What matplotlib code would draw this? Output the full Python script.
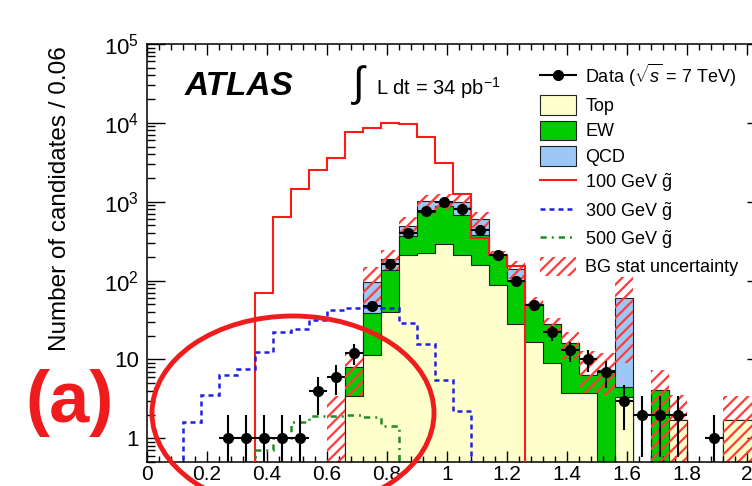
import numpy as np
import matplotlib
matplotlib.use('Agg')
import matplotlib.pyplot as plt
from matplotlib.patches import Ellipse, Patch
from matplotlib.lines import Line2D
from matplotlib.ticker import FixedLocator, FixedFormatter, LogLocator, MultipleLocator, NullFormatter

plt.rcParams['font.family'] = ['Liberation Sans', 'DejaVu Sans']
plt.rcParams['mathtext.fontset'] = 'custom'
plt.rcParams['mathtext.rm'] = 'Liberation Sans'
plt.rcParams['mathtext.it'] = 'Liberation Sans:italic'
plt.rcParams['mathtext.bf'] = 'Liberation Sans:bold'
plt.rcParams['hatch.linewidth'] = 1.6

# 34 bins of width 0.06 starting at 0
bin_width = 0.06
edges = np.round(np.arange(35) * bin_width, 2)

data_counts = np.array([0, 0, 0, 0, 1, 1, 1, 1, 1, 4, 6, 12, 48, 161, 400, 770, 1000,
                        801, 438, 211, 100, 49, 22, 13, 10, 7, 3, 2, 2, 2, 0, 1, 0, 0])

# stacked backgrounds (per component)
bg_top = np.array([0, 0, 0, 0, 0, 0, 0, 0, 0, 0, 0, 3.4, 11.4, 40, 211, 222, 291,
                   211, 158, 88, 28, 16.8, 8.9, 3.7, 3.7, 0, 3.3, 0, 0, 1.7, 0, 0, 1.7, 1.7])
bg_ew = np.array([0, 0, 0, 0, 0, 0, 0, 0, 0, 0, 0, 4.5, 27.4, 95, 154, 528, 589,
                  469, 220, 123, 72, 33, 19, 12.3, 2.7, 7.3, 1.2, 0, 4.1, 0, 0, 0, 0, 0])
bg_qcd = np.array([0, 0, 0, 0, 0, 0, 0, 0, 0, 0, 0, 0, 57, 55, 128, 270, 120,
                   320, 222, 0, 40, 0, 0, 0, 0, 0, 55.5, 0, 0, 0, 0, 0, 0, 0])

# BG stat uncertainty band (lower / upper edge), nan = no band
nan = np.nan
band_lo = np.array([nan, nan, nan, nan, nan, nan, nan, nan, nan, nan, 0.1, 3.4, 46, 135, 350,
                    820, 780, 800, 460, 190, 105, 40, 22, 10, 3.7, 3.5, 9, nan, 0.1, 0.1,
                    nan, nan, 0.1, 0.1])
band_hi = np.array([nan, nan, nan, nan, nan, nan, nan, nan, nan, nan, 3.4, 12.1, 148, 245, 640,
                    1217, 1250, 1200, 740, 235, 175, 62, 34, 22, 12.6, 12.1, 111, nan, 7.3, 3.5,
                    nan, nan, 3.4, 3.4])

# gluino signal samples
gluino_100 = np.array([0, 0, 0, 0, 0, 0, 70, 645, 1440, 2520, 3560, 7700, 8500, 10000, 9600,
                       6700, 3070, 1240, 350, 210, 155, 0, 0, 0, 0, 0, 0, 0, 0, 0, 0, 0, 0, 0])
gluino_300 = np.array([0, 0, 1.6, 3.5, 6.3, 7.5, 12.5, 22, 24, 31.6, 42, 45, 46, 45, 29, 15.7,
                       5.5, 2.2, 0, 0, 0, 0, 0, 0, 0, 0, 0, 0, 0, 0, 0, 0, 0, 0])
gluino_500 = np.array([0, 0, 0, 0, 0, 0, 0.7, 1.0, 1.6, 1.9, 1.9, 1.97, 1.86, 1.43, 0, 0, 0,
                       0, 0, 0, 0, 0, 0, 0, 0, 0, 0, 0, 0, 0, 0, 0, 0, 0])

top_color = '#ffffcc'
ew_color = '#00cc00'
qcd_color = '#9dc8f5'
outline = '#222222'
hatch_color = '#ff3b3b'
floor = 1e-2

fig = plt.figure(figsize=(7.52, 4.86), dpi=100)
ax = fig.add_axes([147 / 752, 24 / 486, 618 / 752, 418 / 486])

# stack drawn back to front
cum_ew = bg_top + bg_ew
cum_qcd = cum_ew + bg_qcd
for vals, col in [(cum_qcd, qcd_color), (cum_ew, ew_color), (bg_top, top_color)]:
    ax.stairs(np.maximum(vals, floor), edges, baseline=floor, fill=True,
              facecolor=col, edgecolor=outline, linewidth=0.8, zorder=1)

has_band = ~np.isnan(band_lo)
ax.bar(edges[:-1][has_band], (band_hi - band_lo)[has_band], bottom=band_lo[has_band],
       width=bin_width, align='edge', fill=False, hatch='///', edgecolor=hatch_color,
       linewidth=0, zorder=2)

ax.stairs(np.maximum(gluino_100, floor), edges, baseline=None, color='#ff1a1a',
          linewidth=1.5, zorder=3)
ax.stairs(np.maximum(gluino_300, floor), edges, baseline=None, color='#2020e0',
          linewidth=1.8, linestyle=(0, (2, 1.6)), zorder=3)
ax.stairs(np.maximum(gluino_500, floor), edges, baseline=None, color='#228b22',
          linewidth=1.8, linestyle=(0, (2.5, 2, 0.8, 2)), zorder=3)

centers = edges[:-1] + bin_width / 2
sel = data_counts > 0
n = data_counts[sel].astype(float)
err_lo = n - np.maximum(n - np.sqrt(n), 1e-3)
err_hi = np.sqrt(n)
ax.errorbar(centers[sel], n, xerr=bin_width / 2, yerr=[err_lo, err_hi], fmt='o',
            color='black', markersize=7, elinewidth=1.5, capsize=0, zorder=4)

ax.set_yscale('log')
ax.set_ylim(0.5, 1e5)
ax.set_xlim(0, 2.06)

ax.yaxis.set_major_locator(FixedLocator([1, 10, 100, 1e3, 1e4, 1e5]))
ax.yaxis.set_major_formatter(FixedFormatter(['1', '10', '$10^{2}$', '$10^{3}$',
                                             '$10^{4}$', '$10^{5}$']))
ax.yaxis.set_minor_locator(LogLocator(subs=np.arange(2, 10)))
ax.yaxis.set_minor_formatter(NullFormatter())
ax.set_xticks(np.round(np.arange(0, 2.01, 0.2), 1))
ax.set_xticklabels(['%g' % v for v in np.round(np.arange(0, 2.01, 0.2), 1)])
ax.xaxis.set_minor_locator(MultipleLocator(0.04))

ax.tick_params(which='both', direction='in', top=True, right=True, width=1.0,
               colors='black')
ax.tick_params(axis='y', which='major', length=13, pad=6, labelsize=16)
ax.tick_params(axis='y', which='minor', length=6)
ax.tick_params(axis='x', which='major', length=8, pad=2, labelsize=15)
ax.tick_params(axis='x', which='minor', length=4)
for sp in ax.spines.values():
    sp.set_linewidth(1.1)

fig.text(60 / 752, 1 - 46 / 486, 'Number of candidates / 0.06', rotation=90,
         ha='center', va='top', fontsize=17.5)

fig.text(185 / 752, 1 - 95 / 486, 'ATLAS', fontsize=24, fontweight='bold',
         fontstyle='italic', va='baseline')
fig.text(353 / 752, 1 - 85 / 486, '\u222b', fontsize=30, va='center')
fig.text(376 / 752, 1 - 95 / 486, r'L dt = 34 pb$^{-1}$', fontsize=14.5, va='baseline')

handles = [Line2D([0], [0], color='black', marker='o', markersize=7, linewidth=1.5),
           Patch(facecolor=top_color, edgecolor=outline, linewidth=0.8),
           Patch(facecolor=ew_color, edgecolor=outline, linewidth=0.8),
           Patch(facecolor=qcd_color, edgecolor=outline, linewidth=0.8),
           Line2D([0], [0], color='#ff1a1a', linewidth=1.5),
           Line2D([0], [0], color='#2020e0', linewidth=1.8, linestyle=(0, (2, 1.6))),
           Line2D([0], [0], color='#228b22', linewidth=1.8, linestyle=(0, (2.5, 2, 0.8, 2))),
           Patch(fill=False, hatch='///', edgecolor=hatch_color, linewidth=0)]
labels = [r'Data ($\sqrt{s}$ = 7 TeV)', 'Top', 'EW', 'QCD',
          r'100 GeV $\tilde{\mathrm{g}}$', r'300 GeV $\tilde{\mathrm{g}}$',
          r'500 GeV $\tilde{\mathrm{g}}$', 'BG stat uncertainty']
fig.legend(handles, labels, loc='upper left', bbox_to_anchor=(540 / 752, 1 - 62 / 486),
           frameon=False, fontsize=13, handlelength=2.0, handleheight=1.3,
           handletextpad=0.5, labelspacing=0.32, borderpad=0, borderaxespad=0)

# annotation marks
fig.add_artist(Ellipse((293 / 752, 1 - 413 / 486), 282 / 752, 194 / 486,
                       transform=fig.transFigure, fill=False, edgecolor='#ee1c1c',
                       linewidth=3.5, zorder=10))
fig.text(70 / 752, 1 - 403 / 486, '(a)', color='#ee1c1c', fontsize=52,
         fontweight='bold', ha='center', va='center')

fig.savefig('out.png', dpi=100)
